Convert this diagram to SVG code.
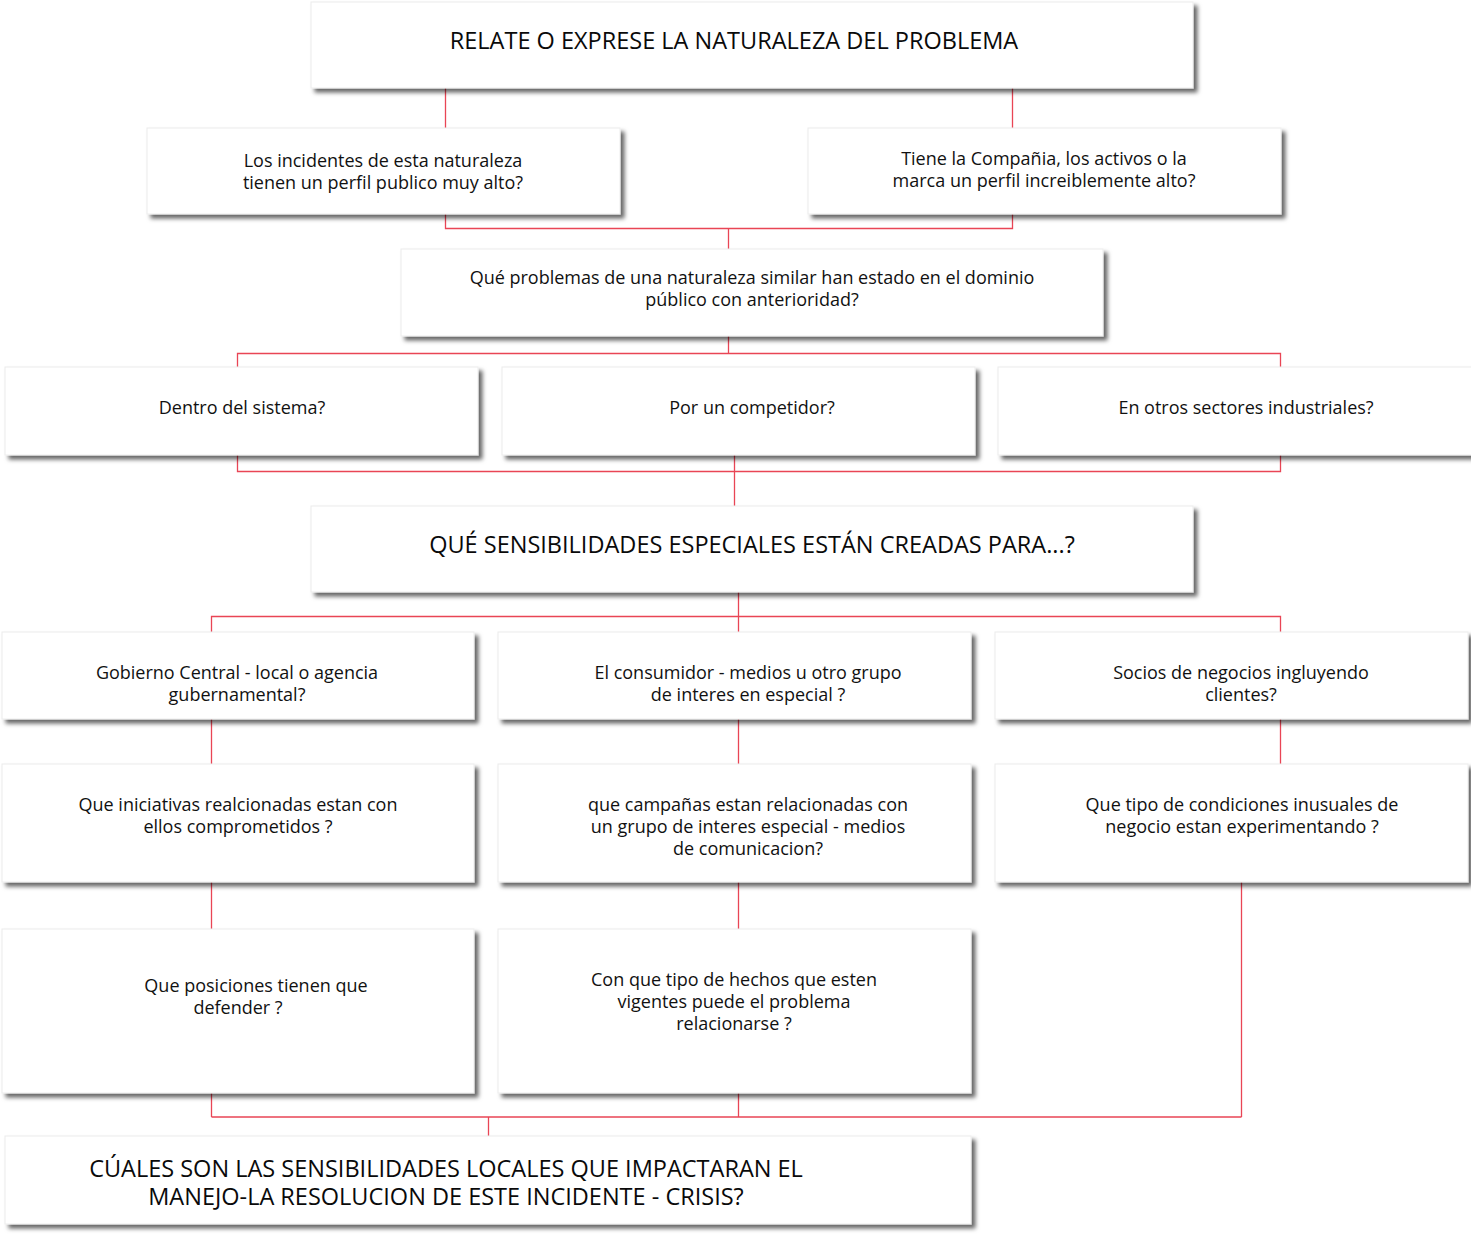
<svg xmlns="http://www.w3.org/2000/svg" width="1471" height="1249" viewBox="0 0 1471 1249">
  <defs>
    <filter id="shadow" x="-5%" y="-10%" width="115%" height="130%">
      <feDropShadow dx="4" dy="4" stdDeviation="2" flood-color="#000" flood-opacity="0.6"/>
    </filter>
    <style>
      .box { fill: #ffffff; stroke: #ececec; stroke-width: 1; filter: url(#shadow); }
      .t { font-family: "Open Sans", "Noto Sans", sans-serif; font-size: 18px; fill: #111111; text-anchor: middle; }
      .h { font-family: "Open Sans", "Noto Sans", sans-serif; font-size: 23.5px; fill: #0a0a0a; text-anchor: middle; }
      .link { fill: none; stroke: #e94555; stroke-width: 1.3; }
    </style>
  </defs>
  <rect width="1471" height="1249" fill="#ffffff"/>

  <g id="connectors">
    <path class="link" d="M445.5 88 V128 M1012.5 88 V128"/>
    <path class="link" d="M445.5 214 V228.5 H1012.5 V214 M728.5 228.5 V256"/>
    <path class="link" d="M728.5 336 V353.5 M237.5 367 V353.5 H1280.5 V367"/>
    <path class="link" d="M237.5 455 V471.5 H1280.5 V455 M734.5 455 V506"/>
    <path class="link" d="M738.5 592 V632 M211.5 632 V616.5 H1280.5 V632"/>
    <path class="link" d="M211.5 719 V764 M738.5 719 V764 M1280.5 719 V764"/>
    <path class="link" d="M211.5 882 V930 M738.5 882 V930 M1241.5 882 V1117"/>
    <path class="link" d="M211.5 1093 V1117 M738.5 1093 V1117 M211.5 1117 H1241.5 M488.5 1117 V1136"/>
  </g>

  <g id="n-relate">
    <rect class="box" x="311" y="2" width="882" height="86"/>
    <text class="h" x="734" y="49">RELATE O EXPRESE LA NATURALEZA DEL PROBLEMA</text>
  </g>
  <g id="n-incidentes">
    <rect class="box" x="147" y="128" width="473" height="86"/>
    <text class="t" x="383" y="167">Los incidentes de esta naturaleza</text>
    <text class="t" x="383" y="189">tienen un perfil publico muy alto?</text>
  </g>
  <g id="n-compania">
    <rect class="box" x="808" y="128" width="473" height="86"/>
    <text class="t" x="1044" y="165">Tiene la Compañia, los activos o la</text>
    <text class="t" x="1044" y="187">marca un perfil increiblemente alto?</text>
  </g>
  <g id="n-similares">
    <rect class="box" x="401" y="249" width="702" height="87"/>
    <text class="t" x="752" y="284">Qué problemas de una naturaleza similar han estado en el dominio</text>
    <text class="t" x="752" y="306">público con anterioridad?</text>
  </g>
  <g id="n-sistema">
    <rect class="box" x="5" y="367" width="473" height="88"/>
    <text class="t" x="242" y="414">Dentro del sistema?</text>
  </g>
  <g id="n-competidor">
    <rect class="box" x="502" y="367" width="473" height="88"/>
    <text class="t" x="752" y="414">Por un competidor?</text>
  </g>
  <g id="n-sectores">
    <rect class="box" x="998" y="367" width="480" height="88"/>
    <text class="t" x="1246" y="414">En otros sectores industriales?</text>
  </g>
  <g id="n-sensibilidades">
    <rect class="box" x="311" y="506" width="882" height="86"/>
    <text class="h" x="752" y="553">QUÉ SENSIBILIDADES ESPECIALES ESTÁN CREADAS PARA...?</text>
  </g>
  <g id="n-gobierno">
    <rect class="box" x="2" y="632" width="472" height="87"/>
    <text class="t" x="237" y="679">Gobierno Central - local o agencia</text>
    <text class="t" x="237" y="701">gubernamental?</text>
  </g>
  <g id="n-consumidor">
    <rect class="box" x="498" y="632" width="473" height="87"/>
    <text class="t" x="748" y="679">El consumidor - medios u otro grupo</text>
    <text class="t" x="748" y="701">de interes en especial ?</text>
  </g>
  <g id="n-socios">
    <rect class="box" x="995" y="632" width="473" height="87"/>
    <text class="t" x="1241" y="679">Socios de negocios ingluyendo</text>
    <text class="t" x="1241" y="701">clientes?</text>
  </g>
  <g id="n-iniciativas">
    <rect class="box" x="2" y="764" width="472" height="118"/>
    <text class="t" x="238" y="811">Que iniciativas realcionadas estan con</text>
    <text class="t" x="238" y="833">ellos comprometidos ?</text>
  </g>
  <g id="n-campanas">
    <rect class="box" x="498" y="764" width="473" height="118"/>
    <text class="t" x="748" y="811">que campañas estan relacionadas con</text>
    <text class="t" x="748" y="833">un grupo de interes especial - medios</text>
    <text class="t" x="748" y="855">de comunicacion?</text>
  </g>
  <g id="n-condiciones">
    <rect class="box" x="995" y="764" width="473" height="118"/>
    <text class="t" x="1242" y="811">Que tipo de condiciones inusuales de</text>
    <text class="t" x="1242" y="833">negocio estan experimentando ?</text>
  </g>
  <g id="n-posiciones">
    <rect class="box" x="2" y="929" width="472" height="164"/>
    <text class="t" x="256" y="992">Que posiciones tienen que</text>
    <text class="t" x="238" y="1014">defender ?</text>
  </g>
  <g id="n-hechos">
    <rect class="box" x="498" y="929" width="473" height="164"/>
    <text class="t" x="734" y="986">Con que tipo de hechos que esten</text>
    <text class="t" x="734" y="1008">vigentes puede el problema</text>
    <text class="t" x="734" y="1030">relacionarse ?</text>
  </g>
  <g id="n-locales">
    <rect class="box" x="5" y="1136" width="966" height="88"/>
    <text class="h"><tspan x="446" y="1177">CÚALES SON LAS SENSIBILIDADES LOCALES QUE IMPACTARAN EL</tspan><tspan x="446" y="1205">MANEJO-LA RESOLUCION DE ESTE INCIDENTE - CRISIS?</tspan></text>
  </g>
</svg>
